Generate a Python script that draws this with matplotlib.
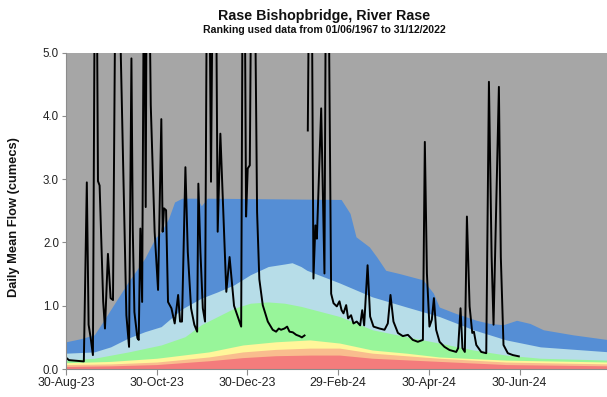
import numpy as np
import matplotlib
matplotlib.use('Agg')
import matplotlib.pyplot as plt
import matplotlib.dates as mdates

plt.rcParams['font.family'] = ['Liberation Sans', 'DejaVu Sans']

# start of the plotted water year; all x values below are days after this
start = '2023-08-30'

# band tops (flow ranking percentiles), read as (day, cumecs)
p95_days = [0, 10, 19, 26, 33, 42, 53, 60, 64, 69, 73, 78, 88, 91, 95, 185, 191, 195, 204, 209,
            215, 224, 240, 247, 251, 262, 276, 285, 294, 303, 312, 321, 341, 366]
p95_vals = [0.43, 0.48, 0.54, 0.79, 1.05, 1.38, 1.75, 2.07, 2.17, 2.38, 2.64, 2.70, 2.70, 2.58, 2.70,
            2.68, 2.46, 2.09, 1.93, 1.77, 1.56, 1.51, 1.41, 1.20, 0.98, 0.88, 0.77, 0.72, 0.70, 0.77,
            0.72, 0.62, 0.54, 0.46]

p87_days = [0, 19, 30, 42, 53, 64, 78, 91, 102, 113, 124, 136, 147, 152, 158, 162, 184, 206, 229,
            251, 274, 296, 319, 366]
p87_vals = [0.25, 0.27, 0.35, 0.49, 0.59, 0.67, 0.95, 1.12, 1.22, 1.33, 1.49, 1.62, 1.66, 1.68, 1.62,
            1.56, 1.36, 1.14, 0.98, 0.83, 0.62, 0.46, 0.35, 0.27]

p72_days = [0, 19, 42, 64, 80, 91, 102, 113, 124, 136, 147, 158, 184, 206, 229, 251, 274, 296, 319, 366]
p72_vals = [0.14, 0.17, 0.27, 0.38, 0.51, 0.70, 0.83, 0.96, 1.04, 1.06, 1.04, 0.99, 0.83, 0.62, 0.51,
            0.41, 0.30, 0.22, 0.17, 0.14]

p28_days = [0, 30, 61, 96, 119, 141, 164, 184, 206, 229, 251, 296, 366]
p28_vals = [0.10, 0.12, 0.17, 0.27, 0.38, 0.43, 0.46, 0.41, 0.30, 0.25, 0.19, 0.14, 0.11]

p13_days = [0, 30, 61, 96, 119, 141, 164, 184, 206, 251, 296, 366]
p13_vals = [0.07, 0.08, 0.11, 0.19, 0.27, 0.31, 0.33, 0.33, 0.25, 0.17, 0.11, 0.08]

p5_days = [0, 30, 61, 96, 119, 141, 164, 184, 206, 251, 296, 366]
p5_vals = [0.04, 0.05, 0.07, 0.13, 0.18, 0.21, 0.22, 0.22, 0.17, 0.12, 0.07, 0.05]

# daily mean flow (peaks above 5 run off the top of the chart), nan = missing data
flow_days = [0, 2, 7, 12, 14, 15.2, 16.6, 18.1, 19.5, 20.5, 21.5, 22.6, 25, 26.2, 28.2, 30, 31.6,
             33.8, 35, 40.6, 42.4, 44, 44.9, 46, 48, 48.9, 50, 51.2, 52.5, 53.6, 54.5, 55.6, 57,
             59.6, 61.9, 64.1, 65, 65.9, 67.3, 68.6, 70.9, 73.1, 75.4, 76.7, 78, 80.3, 81.9, 84.1,
             86.3, 88.2, 89, 90.4, 92, 93.5, 94.9, 96.2, 97.5, 98.9, 100.7, 102, 103.8, 107.8, 110,
             113, 117.8, 118.9, 120, 121.1, 122.2, 123.6, 125.1, 126.7, 128.5, 130, 132.3, 135.7,
             139, 141.3, 143.1, 144.6, 146.9, 148.7, 150.3, 152.5, 154.8, 157, 158.6, 160.4, 161.5,
             162.6, 163.7, 165.1, 166.4, 167.7, 168.7, 171.6, 173.8, 174.9, 176.3, 178.3, 179.9,
             182.1, 183.9, 185.3, 186.6, 188.4, 189.7, 191.7, 193.3, 195.5, 197.8, 199.2, 200.5,
             202.8, 204.5, 206.8, 210.8, 214.2, 216.4, 218.2, 220.2, 223.2, 226.5, 229.9, 233.2,
             236.6, 240, 241.3, 242.7, 244.4, 246, 247.4, 248.9, 251.2, 254.5, 257.9, 262.4, 263.7,
             265.3, 266.6, 268.2, 269.6, 271.4, 273.2, 274.3, 275.9, 279.2, 282.6, 284.4, 286.2,
             287.5, 291.1, 292.4, 294.2, 297.1, 300.5, 304.5]
flow_vals = [0.18, 0.14, 0.13, 0.12, 2.95, 0.70, 0.49, 0.22, 7.0, 7.0, 2.97, 2.90, 1.07, 0.64, 1.82,
             1.12, 1.09, 8.0, 7.0, 0.85, 0.35, 4.91, 2.2, 0.90, 0.49, 0.46, 2.22, 1.06, 7.0, 2.56,
             8.0, 7.0, 4.17, 2.17, 1.25, 3.95, 2.17, 2.54, 2.51, 1.06, 0.96, 0.72, 1.17, 0.75, 0.75,
             3.19, 1.85, 0.96, 0.70, 0.59, 2.93, 1.85, 0.96, 0.75, 7.0, 7.0, 2.96, 7.0, 7.0, 2.17,
             3.72, 1.22, 1.77, 1.00, 0.67, 7.0, 7.0, 2.41, 3.17, 3.22, 8.0, 7.0, 2.48, 1.42, 1.01,
             0.75, 0.62, 0.59, 0.64, 0.62, 0.64, 0.67, 0.59, 0.58, 0.54, 0.52, 0.50, 0.53, np.nan,
             3.77, 7.0, 7.0, 1.43, 2.27, 2.06, 4.12, 1.51, 7.0, 7.0, 1.19, 1.04, 0.99, 1.07, 0.93,
             0.88, 1.01, 0.80, 0.85, 0.72, 0.75, 0.69, 0.93, 0.69, 1.64, 0.83, 0.67, 0.64, 0.62,
             0.72, 1.17, 0.75, 0.57, 0.52, 0.54, 0.46, 0.43, 0.46, 3.59, 1.51, 0.67, 0.78, 1.12,
             0.62, 0.43, 0.35, 0.30, 0.27, 0.33, 0.96, 0.33, 0.27, 2.41, 0.99, 0.57, 0.59, 0.38,
             0.27, 0.25, 4.54, 1.78, 0.70, 4.46, 1.77, 0.38, 0.25, 0.22, 0.20]

yticks = [0.0, 1.0, 2.0, 3.0, 4.0, 5.0]
xtick_dates = ['2023-08-30', '2023-10-30', '2023-12-30', '2024-02-29', '2024-04-30', '2024-06-30']

bands = [
    (p95_days, p95_vals, '#558ed5'),
    (p87_days, p87_vals, '#b7dde8'),
    (p72_days, p72_vals, '#98f59a'),
    (p28_days, p28_vals, '#fff69a'),
    (p13_days, p13_vals, '#f9bd8e'),
    (p5_days, p5_vals, '#f47c7c'),
]

x0 = mdates.datestr2num(start)

fig = plt.figure(figsize=(6.07, 3.97), dpi=100)
ax = fig.add_axes([66 / 607, 1 - 369 / 397, 541 / 607, (369 - 52.7) / 397])
ax.set_facecolor('#a6a6a6')

# paint each band from zero, widest first
for d, v, c in bands:
    ax.fill_between(x0 + np.array(d), 0, v, color=c, linewidth=0)

ax.plot(x0 + np.array(flow_days), flow_vals, color='black', lw=1.4)

ax.set_xlim(x0, x0 + 363.8)
ax.set_ylim(0, 5)
ax.set_yticks(yticks)
ax.yaxis.set_major_formatter(matplotlib.ticker.FormatStrFormatter('%.1f'))
ax.set_xticks([mdates.datestr2num(d) for d in xtick_dates])
ax.xaxis.set_major_formatter(mdates.DateFormatter('%d-%b-%y'))

for s in ['top', 'right']:
    ax.spines[s].set_visible(False)
for s in ['left', 'bottom']:
    ax.spines[s].set_color('#8c8c8c')
    ax.spines[s].set_linewidth(0.8)
ax.tick_params(axis='y', length=3, width=0.8, color='#8c8c8c', labelsize=8.3, labelcolor='#222222', pad=2)
ax.tick_params(axis='x', length=4, width=0.8, color='#8c8c8c', labelsize=8.9, labelcolor='#222222', pad=2)

fig.text(0.534, 0.960, 'Rase Bishopbridge, River Rase', ha='center', va='center',
         fontsize=10.3, fontweight='bold', color='#111111')
fig.text(0.534, 0.925, 'Ranking used data from 01/06/1967 to 31/12/2022', ha='center', va='center',
         fontsize=7.6, fontweight='bold', color='#111111')
fig.text(13.7 / 607, 1 - 216.7 / 397, 'Daily Mean Flow (cumecs)', rotation=90, ha='center',
         va='center', fontsize=9.3, fontweight='bold', color='#111111')

fig.savefig('out.png', dpi=100)
